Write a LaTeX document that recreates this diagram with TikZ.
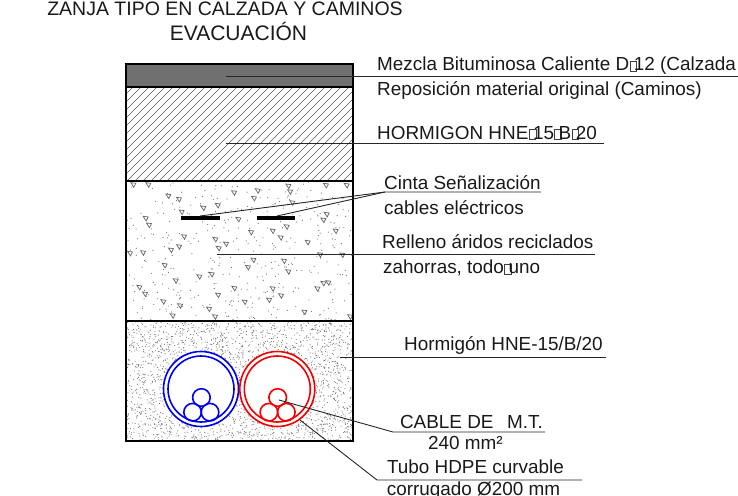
\documentclass[tikz,border=0pt]{standalone}
\usepackage{fontspec}
\setmainfont{Liberation Sans}
\newcommand{\gl}{\kern0.3pt{\setlength{\fboxsep}{0pt}\setlength{\fboxrule}{0.4pt}\textcolor{black!75}{\fbox{\rule{0pt}{9.5pt}\rule{6.4pt}{0pt}}}}\kern-2.9pt}
\definecolor{darkfill}{RGB}{112,112,112}
\definecolor{bluepipe}{RGB}{0,0,240}
\definecolor{redpipe}{RGB}{245,0,0}
\tikzset{
  lab/.style={anchor=base west,inner sep=0pt,font=\fontsize{18.9}{20}\selectfont,text=black!90},
  labc/.style={anchor=base,inner sep=0pt,font=\fontsize{18.9}{20}\selectfont,text=black!90},
  ttl/.style={anchor=base,inner sep=0pt,font=\fontsize{19.5}{20}\selectfont,text=black!90},
  ttlb/.style={anchor=base,inner sep=0pt,font=\fontsize{21}{22}\selectfont,text=black!90},
  leader/.style={draw=black!85,line width=0.9pt},
  layer/.style={draw=black,line width=1.9pt},
  hatchline/.style={draw=black!65,line width=0.45pt},
  tri/.style={draw=black!60,line width=0.7pt,fill=white},
  pipeo/.style={line width=1.6pt},
}
\begin{document}
\begin{tikzpicture}[x=1pt,y=-1pt]
\useasboundingbox (0,0) rectangle (738,495);
% hatch
\begin{scope}
\clip (126,87) rectangle (353,181);
\foreach \i in {0,...,42}{
  \draw[hatchline] ({126+\i*8-95},181) -- ++(95,-95);
}
\end{scope}
% asphalt
\fill[darkfill] (126,64) rectangle (353,87);
% aggregate
\pgfmathsetseed{4217}
\begin{scope}
\clip (127,182) rectangle (352,320);
\foreach \i in {1,...,380}{
  \pgfmathsetmacro{\dx}{127+225*rnd}
  \pgfmathsetmacro{\dy}{182+138*rnd}
  \fill[black!55] (\dx,\dy) circle (0.6);
}
\foreach \a/\b in {70/14,115/14,535/18,648/16,710/16,372/38,540/35,175/48,207/58,443/32,432/55,280/84,323/76,547/68,215/96,107/115,117/135,385/118,650/103,640/120,530/140,677/153,423/157,488/153,512/173,222/170,316/178,348/192,593/187,207/200,183/210,326/205,60/220,99/218,430/240,522/243,164/256,414/262,535/275,268/290,305/283,197/302,88/322,105/342,373/325,488/326,513/347,622/326,640/310,655/308,324/345,160/365,210/377,404/366,477/360,297/387,583/396,188/407,315/410,720/410,630/224,697/225}{
  \draw[tri] ({110+\a/3-2.5},{180+\b/3-2}) -- ++(5,0.6) -- ++(-2,4) -- cycle;
}
\end{scope}
% concrete speckle
\pgfmathsetseed{991}
\begin{scope}
\clip (127,322) rectangle (352,440);
\foreach \i in {1,...,2600}{
  \pgfmathsetmacro{\dx}{127+225*rnd}
  \pgfmathsetmacro{\dy}{322+118*rnd}
  \fill[black!55] (\dx,\dy) circle (0.55);
}
\end{scope}
% layer frames
\draw[layer] (126,64) rectangle (353,441);
\draw[layer] (126,87) -- (353,87);
\draw[layer] (126,181) -- (353,181);
\draw[layer] (126,321) -- (353,321);
% warning tapes
\fill[black] (181,216) rectangle (219.7,219.5);
\fill[black] (256.7,216) rectangle (295.3,219.5);
% pipes
\foreach \cx/\col in {201/bluepipe,277.3/redpipe}{
  \fill[white] (\cx,389) circle (37.5);
  \draw[\col,pipeo] (\cx,389) circle (37.5);
  \draw[\col,pipeo] (\cx,389) circle (33);
  \draw[\col,pipeo] (\cx+0.4,397.5) circle (8.8);
  \draw[\col,pipeo] (\cx-8.4,412.2) circle (8.8);
  \draw[\col,pipeo] (\cx+9,412.2) circle (8.8);
}
% leader anchors
\coordinate (a1) at (226,76); \coordinate (a2) at (738,76);
\coordinate (b1) at (226,143); \coordinate (b2) at (604,143);
\coordinate (c1) at (200,216); \coordinate (c2) at (277,216);
\coordinate (c3) at (385,192); \coordinate (c4) at (541,192);
\coordinate (d1) at (216.7,254); \coordinate (d2) at (595,254);
\coordinate (e1) at (340,357.5); \coordinate (e3) at (606,357.5);
\coordinate (f1) at (279,400); \coordinate (f2) at (393,432); \coordinate (f3) at (545,432);
\coordinate (g1) at (300,420); \coordinate (g2) at (377,480); \coordinate (g3) at (582,480);
\draw[leader] (a1) -- (a2);
\draw[leader] (b1) -- (b2);
\draw[leader] (c1) -- (c3) -- (c4);
\draw[leader] (c2) -- (c3);
\draw[leader] (d1) -- (d2);
\draw[leader] (e1) -- (e3);
\draw[leader] (f1) -- (f2) -- (f3);
\draw[leader] (g1) -- (g2) -- (g3);
% texts
\node[ttl] (t1) at (225,16) {ZANJA TIPO EN CALZADA Y CAMINOS};
\node[ttlb] (t2) at (238.5,40.5) {EVACUACIÓN};
\node[lab] (l1) at (377,70.5) {Mezcla Bituminosa Caliente D\gl12 (Calzada};
\node[lab] (l2) at (377,95.5) {Reposición material original (Caminos)};
\node[lab] (l3) at (377,139) {HORMIGON HNE\gl15\gl B\gl20};
\node[lab] (l4) at (384,189) {Cinta Señalización};
\node[lab] (l5) at (384,214) {cables eléctricos};
\node[lab] (l6) at (382,248) {Relleno áridos reciclados};
\node[lab] (l7) at (383,273.5) {zahorras, todo\gl uno};
\node[lab] (l8) at (404,350) {Hormigón HNE-15/B/20};
\node[labc] (l9) at (471.5,428) {CABLE DE\ \ \,M.T.};
\node[labc] (l10) at (465.5,449) {240 mm²};
\node[labc] (l11) at (475.5,473.5) {Tubo HDPE curvable};
\node[labc] (l12) at (473.5,495) {corrugado Ø200 mm};
\end{tikzpicture}
\end{document}
